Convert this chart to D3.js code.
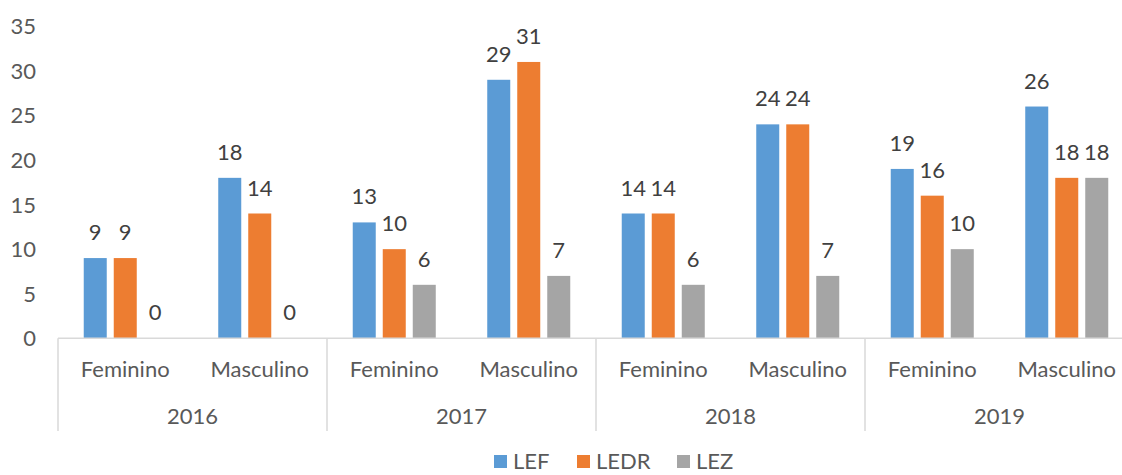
<!DOCTYPE html>
<html>
<head>
<meta charset="utf-8">
<script src="https://cdn.jsdelivr.net/npm/d3@7"></script>
<style>
  body { margin: 0; background: #fff; }
  svg { display: block; }
</style>
</head>
<body>
<div id="chart"></div>
<script>
// chart data
const years = ["2016", "2017", "2018", "2019"];
const genders = ["Feminino", "Masculino"];
const seriesNames = ["LEF", "LEDR", "LEZ"];
const lefValues = [9, 18, 13, 29, 14, 24, 19, 26];
const ledrValues = [9, 14, 10, 31, 14, 24, 16, 18];
const lezValues = [0, 0, 6, 7, 6, 7, 10, 18];
const yTicks = [0, 5, 10, 15, 20, 25, 30, 35];

const colors = ["#5B9BD5", "#ED7D31", "#A5A5A5"];
const textColor = "#595959";
const fontFamily = "Lato, Carlito, Calibri, 'Noto Sans', sans-serif";
const fontSize = "22px";

const width = 1122;
const height = 475;
const plotLeft = 58;
const plotRight = 1134; // the plot runs past the right edge, as in the picture
const plotTop = 26.3;
const plotBottom = 338.3;

const svg = d3
  .select("#chart")
  .append("svg")
  .attr("width", width)
  .attr("height", height)
  .style("font-family", fontFamily);

// rows: one per year/gender
const rows = [];
years.forEach((yr, i) => {
  genders.forEach((g, j) => {
    const k = i * genders.length + j;
    rows.push({ year: yr, gender: g, values: [lefValues[k], ledrValues[k], lezValues[k]] });
  });
});

// scales
const x0 = d3.scaleBand().domain(years).range([plotLeft, plotRight]).padding(0);
const x1 = d3.scaleBand().domain(genders).range([0, x0.bandwidth()]).padding(0);
const x2 = d3
  .scaleBand()
  .domain(seriesNames)
  .range([0, x1.bandwidth()])
  .paddingInner(0.2333)
  .paddingOuter(0.858);
const y = d3.scaleLinear().domain([0, 35]).range([plotBottom, plotTop]);

// y tick labels (no axis line, no gridlines)
svg
  .append("g")
  .selectAll("text")
  .data(yTicks)
  .enter()
  .append("text")
  .attr("x", 36)
  .attr("y", (d) => y(d))
  .attr("dy", "0.36em")
  .attr("text-anchor", "end")
  .style("font-size", fontSize)
  .style("fill", textColor)
  .text((d) => d);

// bars
const groups = svg
  .append("g")
  .selectAll("g")
  .data(rows)
  .enter()
  .append("g")
  .attr("transform", (d) => `translate(${x0(d.year) + x1(d.gender)},0)`);

groups
  .selectAll("rect")
  .data((d) => d.values.map((v, i) => ({ name: seriesNames[i], value: v, color: colors[i] })))
  .enter()
  .append("rect")
  .attr("x", (d) => x2(d.name))
  .attr("width", x2.bandwidth())
  .attr("y", (d) => y(d.value))
  .attr("height", (d) => y(0) - y(d.value))
  .attr("fill", (d) => d.color);

// value labels
groups
  .selectAll("text")
  .data((d) => d.values.map((v, i) => ({ name: seriesNames[i], value: v })))
  .enter()
  .append("text")
  .attr("x", (d) => x2(d.name) + x2.bandwidth() / 2)
  .attr("y", (d) => y(d.value) - 18)
  .attr("text-anchor", "middle")
  .style("font-size", fontSize)
  .style("fill", "#404040")
  .text((d) => d.value);

// category axis
const axisColor = "#D9D9D9";
svg
  .append("line")
  .attr("x1", plotLeft)
  .attr("x2", plotRight)
  .attr("y1", plotBottom)
  .attr("y2", plotBottom)
  .style("stroke", axisColor)
  .style("stroke-width", 1.5);

const seps = years.map((yr) => x0(yr)).concat([plotRight]);
svg
  .append("g")
  .selectAll("line")
  .data(seps)
  .enter()
  .append("line")
  .attr("x1", (d) => d)
  .attr("x2", (d) => d)
  .attr("y1", plotBottom)
  .attr("y2", 431)
  .style("stroke", axisColor)
  .style("stroke-width", 1.5);

// gender labels
svg
  .append("g")
  .selectAll("text")
  .data(rows)
  .enter()
  .append("text")
  .attr("x", (d) => x0(d.year) + x1(d.gender) + x1.bandwidth() / 2)
  .attr("y", 377)
  .attr("text-anchor", "middle")
  .style("font-size", fontSize)
  .style("fill", textColor)
  .text((d) => d.gender);

// year labels
svg
  .append("g")
  .selectAll("text")
  .data(years)
  .enter()
  .append("text")
  .attr("x", (d) => x0(d) + x0.bandwidth() / 2)
  .attr("y", 424)
  .attr("text-anchor", "middle")
  .style("font-size", fontSize)
  .style("fill", textColor)
  .text((d) => d);

// legend (moved up a bit so the text fits inside the window)
const legendX = [494, 577, 677];
const legend = svg
  .append("g")
  .selectAll("g")
  .data(seriesNames)
  .enter()
  .append("g")
  .attr("transform", (d, i) => `translate(${legendX[i]},455)`);

legend
  .append("rect")
  .attr("width", 13)
  .attr("height", 13)
  .attr("fill", (d, i) => colors[i]);

legend
  .append("text")
  .attr("x", 19)
  .attr("y", 14)
  .style("font-size", fontSize)
  .style("fill", textColor)
  .text((d) => d);
</script>
</body>
</html>
